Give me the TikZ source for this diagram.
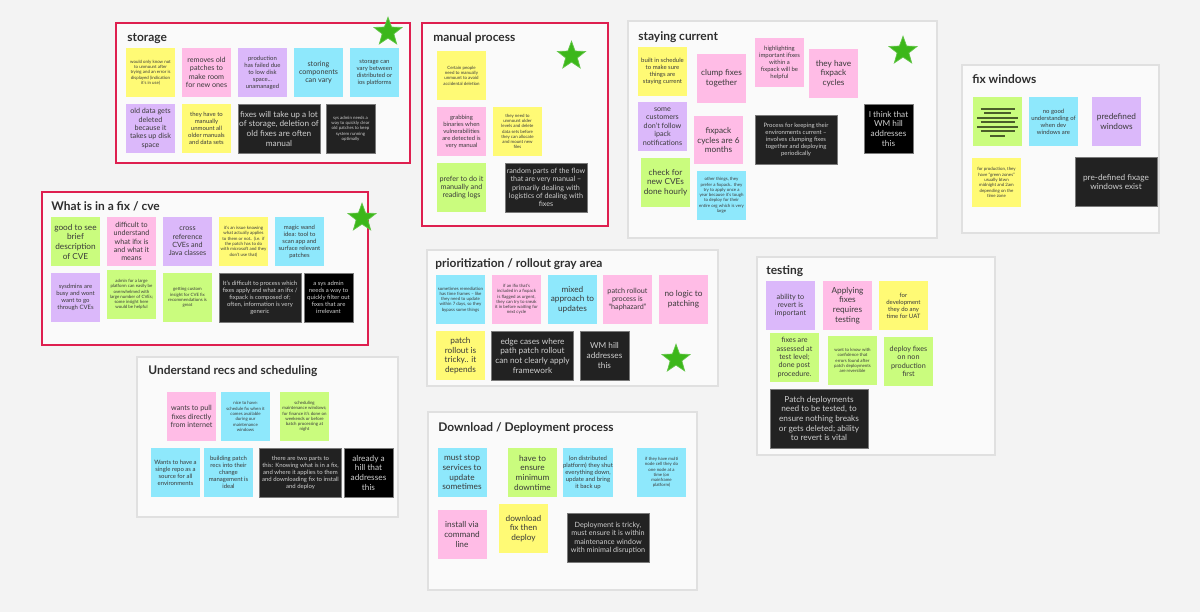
\documentclass[tikz,border=0pt]{standalone}
\usepackage{fontspec}
\setmainfont{Lato}
\usepackage{xcolor}
\usepackage{tikz}
\usetikzlibrary{calc, shapes.geometric}
\definecolor{boardgray}{HTML}{F3F3F3}
\definecolor{framefill}{HTML}{FAFAFA}
\definecolor{frameedge}{HTML}{E0E0E0}
\definecolor{framered}{HTML}{DE1F4F}
\definecolor{titletext}{HTML}{2E2E2E}
\definecolor{notetext}{HTML}{3A3A3A}
\definecolor{noteyellow}{HTML}{FFFA75}
\definecolor{notepink}{HTML}{FFBCE6}
\definecolor{notepurple}{HTML}{DBB8FA}
\definecolor{notecyan}{HTML}{8EE8FC}
\definecolor{notegreen}{HTML}{CAFC7E}
\definecolor{notedark}{HTML}{222222}
\definecolor{darkedge}{HTML}{7A7A7A}
\definecolor{darktext}{HTML}{CFCFCF}
\definecolor{stargreen}{HTML}{3CB71A}
\definecolor{scribble}{HTML}{4B5E2A}

\begin{document}
\begin{tikzpicture}[x=0.02cm, y=-0.02cm,
    frame/.style={fill=framefill, draw=frameedge, line width=0.6pt},
    redframe/.style={fill=framefill, draw=framered, line width=1.4pt},
    title/.style={anchor=base west, inner sep=0pt, text=titletext,
                  font=\fontsize{6.8}{8}\selectfont\bfseries},
    note/.style={rectangle, inner sep=0pt, minimum width=0.98cm,
                 minimum height=0.98cm, align=center, text=notetext},
    wide/.style={minimum width=1.64cm},
    yellownote/.style={note, fill=noteyellow},
    pinknote/.style={note, fill=notepink},
    purplenote/.style={note, fill=notepurple},
    cyannote/.style={note, fill=notecyan},
    greennote/.style={note, fill=notegreen},
    darknote/.style={note, fill=notedark, draw=darkedge, line width=0.5pt, text=darktext},
    blacknote/.style={note, fill=black, draw=darkedge, line width=0.5pt, text=darktext},
    hugetxt/.style={font=\fontsize{4.7}{5.5}\selectfont},
    bigtxt/.style={font=\fontsize{4.1}{4.8}\selectfont},
    midtxt/.style={font=\fontsize{3.4}{4.0}\selectfont},
    smalltxt/.style={font=\fontsize{2.5}{3.0}\selectfont},
    greenstar/.style={star, star points=5, star point ratio=2.4, fill=stargreen,
                      draw=stargreen!80!white, minimum size=0.59cm, inner sep=0pt},
]
    % Board
    \useasboundingbox[fill=boardgray] (0,0) rectangle (1200,612);

    % Frames
    \draw[redframe] (116,23) rectangle (410,163);
    \draw[redframe] (422,23) rectangle (608,226);
    \draw[frame] (628,21) rectangle (937,238);
    \draw[frame] (962,65) rectangle (1159,233);
    \draw[redframe] (42,192) rectangle (368,345);
    \draw[frame] (427,250) rectangle (718,386);
    \draw[frame] (757,257) rectangle (995,455);
    \draw[frame] (137,357) rectangle (398,517);
    \draw[frame] (428,412) rectangle (697,590);

    % Titles
    \node[title] (storagetitle) at (127,41) {storage};
    \node[title] (manualtitle) at (433,41) {manual process};
    \node[title] (currenttitle) at (638,40) {staying current};
    \node[title] (windowstitle) at (972,83) {fix windows};
    \node[title] (fixtitle) at (51,210) {What is in a fix / cve};
    \node[title] (rollouttitle) at (435,267) {prioritization / rollout gray area};
    \node[title] (testingtitle) at (766,274) {testing};
    \node[title] (recstitle) at (148,374) {Understand recs and scheduling};
    \node[title] (deploytitle) at (438,431) {Download / Deployment process};

    % storage
    \node[yellownote, smalltxt] (st1) at (150.5,72.5) {would only know not\\to unmount after\\trying and an error is\\displayed (indication\\it's in use)};
    \node[pinknote, bigtxt] (st2) at (206.5,72.5) {removes old\\patches to\\make room\\for new ones};
    \node[purplenote, midtxt] (st3) at (262.5,72.5) {production\\has failed due\\to low disk\\space...\\unamanaged};
    \node[cyannote, bigtxt] (st4) at (318.5,72.5) {storing\\components\\can vary};
    \node[cyannote, midtxt] (st5) at (374.5,72.5) {storage can\\vary between\\distributed or\\ios platforms};
    \node[purplenote, bigtxt] (st6) at (150.5,128.5) {old data gets\\deleted\\because it\\takes up disk\\space};
    \node[yellownote, midtxt] (st7) at (206.5,128.5) {they have to\\manually\\unmount all\\older manuals\\and data sets};
    \node[darknote, wide, hugetxt] (st8) at (279,128.5) {fixes will take up a lot\\of storage, deletion of\\old fixes are often\\manual};
    \node[darknote, smalltxt] (st9) at (350.5,128.5) {sys admin needs a\\way to quickly clear\\old patches to keep\\system running\\optimally};
    \node[greenstar] (storagestar) at (388,32) {};

    % manual process
    \node[yellownote, smalltxt] (mp1) at (461.5,75.5) {Certain people\\need to manually\\unmount to avoid\\accidental deletion};
    \node[pinknote, midtxt] (mp2) at (461.5,131.5) {grabbing\\binaries when\\vulnerabilities\\are detected is\\very manual};
    \node[yellownote, smalltxt] (mp3) at (517.5,131.5) {they need to\\unmount older\\levels and delete\\data sets before\\they can allocate\\and mount new\\files};
    \node[greennote, bigtxt] (mp4) at (461.5,187.5) {prefer to do it\\manually and\\reading logs};
    \node[darknote, wide, bigtxt] (mp5) at (546,187.5) {random parts of the flow\\that are very manual --\\primarily dealing with\\logistics of dealing with\\fixes};
    \node[greenstar] (manualstar) at (571.5,56) {};

    % staying current
    \node[yellownote, midtxt] (sc1) at (662.5,71.5) {built in schedule\\to make sure\\things are\\staying current};
    \node[pinknote, hugetxt] (sc2) at (721.5,78.5) {clump fixes\\together};
    \node[pinknote, midtxt] (sc3) at (779.5,62.5) {highlighting\\important ifixes\\within a\\fixpack will be\\helpful};
    \node[pinknote, hugetxt] (sc4) at (833.5,73.5) {they have\\fixpack\\cycles};
    \node[purplenote, bigtxt] (sc5) at (662.5,126.5) {some\\customers\\don't follow\\ipack\\notifications};
    \node[pinknote, hugetxt] (sc6) at (718.5,140) {fixpack\\cycles are 6\\months};
    \node[darknote, wide, midtxt] (sc7) at (796,140) {Process for keeping their\\environments current --\\involves clumping fixes\\together and deploying\\periodically};
    \node[blacknote, hugetxt] (sc8) at (888.5,128.5) {I think that\\WM hill\\addresses\\this};
    \node[greennote, hugetxt] (sc9) at (665.5,182.5) {check for\\new CVEs\\done hourly};
    \node[cyannote, smalltxt] (sc10) at (721.5,195.5) {other things, they\\prefer a fixpack.. they\\try to apply once a\\year because it's tough\\to deploy for their\\entire org which is very\\large};
    \node[greenstar] (currentstar) at (903,51) {};

    % fix windows
    \node[greennote] (fw1) at (997.5,121.5) {};
    \foreach \dy/\hw in {-12.5/17, -8.5/13.5, -3.5/20.5, 0.5/17, 5.5/20.5, 9.5/17, 14.5/7.5}
        \draw[scribble, line width=0.7pt] ($(fw1)+(-\hw,\dy)$) -- ($(fw1)+(\hw,\dy)$);
    \node[cyannote, midtxt] (fw2) at (1053.5,121.5) {no good\\understanding of\\when dev\\windows are};
    \node[purplenote, hugetxt] (fw3) at (1116.5,121.5) {predefined\\windows};
    \node[yellownote, smalltxt] (fw4) at (996.5,182.5) {for production, they\\have ``green zones''\\usually btwn\\midnight and 2am\\depending on the\\time zone};
    \node[darknote, wide, hugetxt] (fw5) at (1116,182) {pre-defined fixage\\windows exist};

    % What is in a fix / cve
    \node[greennote, hugetxt] (wf1) at (75.5,241.5) {good to see\\brief\\description\\of CVE};
    \node[pinknote, bigtxt] (wf2) at (131.5,241.5) {difficult to\\understand\\what ifix is\\and what it\\means};
    \node[purplenote, bigtxt] (wf3) at (187.5,241.5) {cross\\reference\\CVEs and\\Java classes};
    \node[yellownote, smalltxt] (wf4) at (243.5,241.5) {it's an issue knowing\\what actually applies\\to them or not.. (i.e. if\\the patch has to do\\with microsoft and they\\don't use that)};
    \node[cyannote, midtxt] (wf5) at (299.5,241.5) {magic wand\\idea: tool to\\scan app and\\surface relevant\\patches};
    \node[purplenote, midtxt] (wf6) at (75.5,297.5) {sysdmins are\\busy and wont\\want to go\\through CVEs};
    \node[greennote, smalltxt] (wf7) at (131.5,294.5) {admin for a large\\platform can easily be\\overwhelmed with\\large number of CVEs;\\some insight here\\would be helpful};
    \node[greennote, smalltxt] (wf8) at (187.5,297.5) {getting custom\\insight for CVE fix\\recommendations is\\great};
    \node[darknote, wide, midtxt] (wf9) at (260,297.5) {It's difficult to process which\\fixes apply and what an ifix /\\fixpack is composed of;\\often, information is very\\generic};
    \node[blacknote, midtxt] (wf10) at (328.5,297.5) {a sys admin\\needs a way to\\quickly filter out\\fixes that are\\irrelevant};
    \node[greenstar] (fixstar) at (362,218) {};

    % prioritization / rollout gray area
    \node[cyannote, smalltxt] (pr1) at (460.5,299.5) {sometimes remediation\\has time frames -- like\\they need to update\\within 7 days, so they\\bypass some things};
    \node[pinknote, smalltxt] (pr2) at (516.5,299.5) {if an ifix that's\\included in a fixpack\\is flagged as urgent,\\they can try to sneak\\it in before waiting for\\next cycle};
    \node[cyannote, hugetxt] (pr3) at (572.5,299.5) {mixed\\approach to\\updates};
    \node[pinknote, bigtxt] (pr4) at (627.5,299.5) {patch rollout\\process is\\``haphazard''};
    \node[pinknote, hugetxt] (pr5) at (683.5,299.5) {no logic to\\patching};
    \node[yellownote, hugetxt] (pr6) at (460.5,355.5) {patch\\rollout is\\tricky.. it\\depends};
    \node[darknote, wide, hugetxt] (pr7) at (532.5,355.5) {edge cases where\\path patch rollout\\can not clearly apply\\framework};
    \node[darknote, hugetxt] (pr8) at (604.5,355.5) {WM hill\\addresses\\this};
    \node[greenstar] (rolloutstar) at (676,359) {};

    % testing
    \node[purplenote, bigtxt] (ts1) at (790.5,305.5) {ability to\\revert is\\important};
    \node[pinknote, hugetxt] (ts2) at (847.5,305.5) {Applying\\fixes\\requires\\testing};
    \node[yellownote, midtxt] (ts3) at (903.5,305.5) {for\\development\\they do any\\time for UAT};
    \node[greennote, bigtxt] (ts4) at (794.5,357.5) {fixes are\\assessed at\\test level;\\done post\\procedure.};
    \node[greennote, smalltxt] (ts5) at (852.5,360.5) {want to know with\\confidence that\\errors found after\\patch deployments\\are reversible};
    \node[greennote, bigtxt] (ts6) at (908.5,361.5) {deploy fixes\\on non\\production\\first};
    \node[darknote, hugetxt, minimum width=1.96cm, minimum height=1.18cm] (ts7) at (819,418.5) {Patch deployments\\need to be tested, to\\ensure nothing breaks\\or gets deleted; ability\\to revert is vital};

    % Understand recs and scheduling
    \node[pinknote, bigtxt] (rs1) at (191.5,416.5) {wants to pull\\fixes directly\\from internet};
    \node[cyannote, smalltxt] (rs2) at (245.5,416.5) {nice to have:\\schedule fix when it\\comes available\\during our\\maintenance\\windows};
    \node[greennote, smalltxt] (rs3) at (304.5,416.5) {scheduling\\maintenance windows;\\for finance it's done on\\weekends or before\\batch processing at\\night};
    \node[cyannote, midtxt] (rs4) at (175.5,472.5) {Wants to have a\\single repo as a\\source for all\\environments};
    \node[cyannote, midtxt] (rs5) at (228.5,472.5) {building patch\\recs into their\\change\\management is\\ideal};
    \node[darknote, wide, midtxt] (rs6) at (300.5,472.5) {there are two parts to\\this: Knowing what is in a fix,\\and where it applies to them\\and downloading fix to install\\and deploy};
    \node[blacknote, hugetxt] (rs7) at (368.5,472.5) {already a\\hill that\\addresses\\this};

    % Download / Deployment process
    \node[cyannote, hugetxt] (dp1) at (462,472.5) {must stop\\services to\\update\\sometimes};
    \node[greennote, hugetxt] (dp2) at (532.5,472.5) {have to\\ensure\\minimum\\downtime};
    \node[cyannote, midtxt] (dp3) at (588,472.5) {(on distributed\\platform) they shut\\everything down,\\update and bring\\it back up};
    \node[cyannote, smalltxt] (dp4) at (661.5,472.5) {if they have multi\\node cell they do\\one node at a\\time (on\\mainframe\\platform)};
    \node[pinknote, hugetxt] (dp5) at (462,534.5) {install via\\command\\line};
    \node[yellownote, hugetxt] (dp6) at (523.5,528.5) {download\\fix then\\deploy};
    \node[darknote, wide, bigtxt] (dp7) at (608,538) {Deployment is tricky,\\must ensure it is within\\maintenance window\\with minimal disruption};
\end{tikzpicture}
\end{document}
